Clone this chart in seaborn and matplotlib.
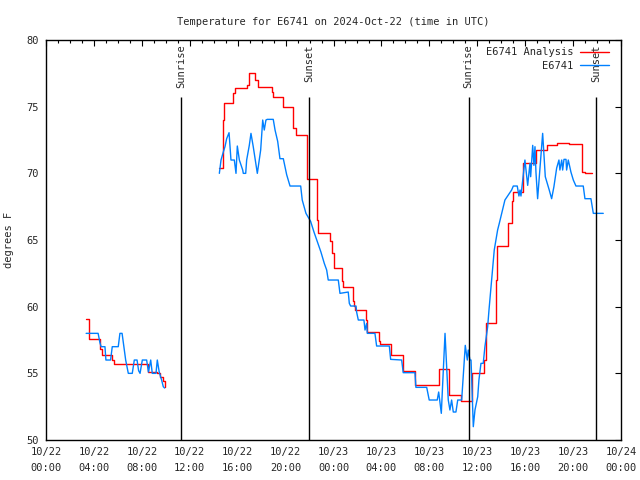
import numpy as np
import pandas as pd
import matplotlib
matplotlib.use("Agg")
import matplotlib.pyplot as plt
import matplotlib.dates as mdates
import seaborn as sns

# hours after 2024-10-22 00:00 UTC
red1_h = [3.35, 3.6, 4.5, 4.65, 5.5, 5.65, 8.55, 9.3, 9.55, 9.75, 9.95]
red1_v = [59.1, 57.6, 56.8, 56.4, 56.0, 55.7, 55.1, 55.0, 54.7, 54.4, 54.0]

blue1_h = [3.35, 4.35, 4.5, 4.6, 4.92, 5.0, 5.39, 5.53, 6.03, 6.17, 6.35, 6.5, 6.65, 6.87,
           7.2, 7.37, 7.6, 7.73, 7.85, 8.04, 8.4, 8.55, 8.74, 8.87, 9.18, 9.29, 9.45, 9.65,
           9.79, 9.9]
blue1_v = [58.0, 58.0, 57.3, 57.0, 57.0, 56.0, 56.0, 57.0, 57.0, 58.0, 58.0, 57.0, 56.0, 55.0,
           55.0, 56.0, 56.0, 55.2, 55.0, 56.0, 56.0, 55.1, 56.0, 55.0, 55.0, 56.0, 55.1, 54.5,
           54.0, 53.9]

red2_h = [14.47, 14.75, 14.82, 15.61, 15.63, 15.78, 16.78, 16.97, 17.45, 17.7, 18.84, 18.97,
          19.76, 20.62, 20.91, 21.76, 22.60, 22.65, 22.73, 23.71, 23.85, 24.02, 24.68, 24.77,
          25.65, 25.71, 25.79, 26.71, 26.82, 27.80, 27.88, 28.77, 29.82, 30.80, 32.83, 33.66,
          34.64, 35.58, 36.56, 36.70, 37.54, 37.67, 38.59, 38.87, 39.01, 39.84, 40.88, 41.79,
          42.68, 43.68, 44.72, 44.97, 45.55]
red2_v = [70.4, 74.0, 75.25, 75.5, 76.0, 76.4, 76.6, 77.5, 77.0, 76.5, 76.1, 75.75,
          75.0, 73.4, 72.9, 69.6, 68.6, 66.5, 65.5, 64.9, 64.0, 62.9, 61.9, 61.45,
          60.4, 60.05, 59.75, 59.0, 58.1, 57.4, 57.2, 56.4, 55.2, 54.1, 55.3, 53.4,
          52.95, 55.05, 56.0, 58.75, 62.0, 64.55, 66.25, 67.9, 68.6, 70.8, 71.75, 72.1,
          72.3, 72.2, 70.1, 70.0, 70.0]

blue2_h = [14.47, 14.61, 14.80, 14.94, 15.08, 15.28, 15.44, 15.72, 15.86, 15.97, 16.14, 16.42,
           16.47, 16.67, 16.75, 16.97, 17.11, 17.30, 17.64, 17.80, 17.92, 18.09, 18.22, 18.36,
           18.47, 18.97, 19.12, 19.34, 19.53, 19.81, 20.09, 20.37, 21.26, 21.39, 21.70, 22.09,
           22.37, 22.60, 22.95, 23.23, 23.43, 23.56, 24.40, 24.54, 25.23, 25.32, 25.43, 25.88,
           25.93, 26.07, 26.54, 26.63, 26.77, 26.82, 27.46, 27.60, 28.66, 28.77, 29.69, 29.82,
           30.80, 30.88, 31.78, 31.99, 32.66, 32.78, 33.00, 33.31, 33.58, 33.72, 33.86, 34.00,
           34.22, 34.37, 34.70, 35.00, 35.17, 35.25, 35.39, 35.48, 35.53, 35.67, 35.81, 36.04,
           36.14, 36.31, 36.50, 36.64, 36.87, 36.98, 37.20, 37.42, 37.70, 37.84, 38.04, 38.31,
           38.87, 39.01, 39.34, 39.48, 39.57, 39.65, 39.98, 40.21, 40.40, 40.46, 40.63, 40.73,
           40.82, 40.90, 41.04, 41.46, 41.68, 42.01, 42.21, 42.40, 42.63, 42.82, 42.90, 43.05,
           43.13, 43.24, 43.41, 43.46, 43.60, 43.82, 44.02, 44.24, 44.85, 44.99, 45.49, 45.69,
           46.52]
blue2_v = [70.0, 71.0, 71.6, 72.0, 72.6, 73.05, 71.0, 71.0, 70.0, 72.05, 71.0, 70.25,
           70.0, 70.0, 71.0, 72.1, 73.0, 72.0, 70.0, 71.0, 71.75, 74.0, 73.25, 74.0,
           74.05, 74.05, 73.25, 72.4, 71.1, 71.1, 69.9, 69.05, 69.05, 68.0, 67.0, 66.4,
           65.6, 65.0, 64.1, 63.25, 62.75, 62.0, 62.0, 61.0, 61.1, 60.25, 60.05, 60.05,
           59.6, 59.0, 59.0, 58.25, 58.75, 58.0, 58.0, 57.05, 57.05, 56.05, 56.0, 55.05,
           55.05, 53.95, 53.95, 53.0, 53.0, 53.6, 52.0, 58.0, 53.0, 52.25, 53.0, 52.1,
           52.1, 53.0, 53.0, 57.1, 56.0, 56.75, 56.0, 56.0, 54.75, 51.0, 52.25, 53.25,
           54.5, 55.75, 55.75, 57.0, 58.5, 59.75, 62.0, 64.25, 65.75, 66.25, 67.0, 68.0,
           68.75, 69.05, 69.05, 68.3, 68.75, 68.3, 71.0, 69.1, 70.75, 69.75, 72.1, 70.6,
           72.0, 70.1, 68.1, 73.0, 69.75, 68.75, 68.1, 69.0, 70.4, 71.0, 70.25, 71.0,
           70.25, 71.05, 71.05, 70.25, 71.0, 70.1, 69.5, 69.05, 69.05, 68.1, 68.1, 67.0,
           67.0]

sun_labels = ["Sunrise", "Sunset", "Sunrise", "Sunset"]
sun_times = ["2024-10-22 11:16", "2024-10-22 21:57", "2024-10-23 11:17", "2024-10-23 21:56"]

base = pd.Timestamp("2024-10-22 00:00")


def to_time(hours):
    return base + pd.to_timedelta(np.array(hours), unit="h")


sns.set_style("white")
mono = ["DejaVu Sans Mono"]
plt.rcParams["font.family"] = mono
plt.rcParams["font.size"] = 7.5

fig = plt.figure(figsize=(6.4, 4.8), dpi=100)
ax = fig.add_axes([0.0719, 0.0833, 0.8984, 0.8333])

red = "#ff0000"
blue = "#0080ff"

sns.lineplot(x=to_time(red1_h), y=red1_v, ax=ax, color=red, lw=1,
             drawstyle="steps-post", label="E6741 Analysis")
sns.lineplot(x=to_time(red2_h), y=red2_v, ax=ax, color=red, lw=1,
             drawstyle="steps-post")
sns.lineplot(x=to_time(blue1_h), y=blue1_v, ax=ax, color=blue, lw=1, label="E6741")
sns.lineplot(x=to_time(blue2_h), y=blue2_v, ax=ax, color=blue, lw=1)

for lab, t in zip(sun_labels, sun_times):
    tt = pd.Timestamp(t)
    ax.vlines(tt, 50, 75.7, color="black", lw=1)
    ax.text(tt, 79.65, lab, rotation=90, ha="center", va="top", fontsize=7.5)

ax.set_xlim(pd.Timestamp("2024-10-22 00:00"), pd.Timestamp("2024-10-24 00:00"))
ax.set_ylim(50, 80)
ax.set_yticks(range(50, 81, 5))
ax.xaxis.set_major_locator(mdates.HourLocator(byhour=[0, 4, 8, 12, 16, 20]))
ax.xaxis.set_minor_locator(mdates.HourLocator())
ax.xaxis.set_major_formatter(mdates.DateFormatter("%m/%d\n%H:%M"))
ax.tick_params(which="both", direction="in", top=True, right=True,
               labelsize=7.5, width=0.8, color="black")
ax.tick_params(which="major", length=4, pad=5)
ax.tick_params(which="minor", length=2.5)
for lbl in ax.get_xticklabels():
    lbl.set_linespacing(1.7)
for s in ax.spines.values():
    s.set_color("black")
    s.set_linewidth(1)

ax.set_title("Temperature for E6741 on 2024-Oct-22 (time in UTC)", fontsize=7.5, pad=11)
ax.set_ylabel("degrees F", fontsize=7.5, labelpad=9)
ax.set_xlabel("")

ax.legend(loc="upper right", bbox_to_anchor=(0.995, 1.005), frameon=False,
          markerfirst=False, handlelength=2.8, fontsize=7.5, labelspacing=0.3,
          handletextpad=0.6)

fig.savefig("out.png", dpi=100)
